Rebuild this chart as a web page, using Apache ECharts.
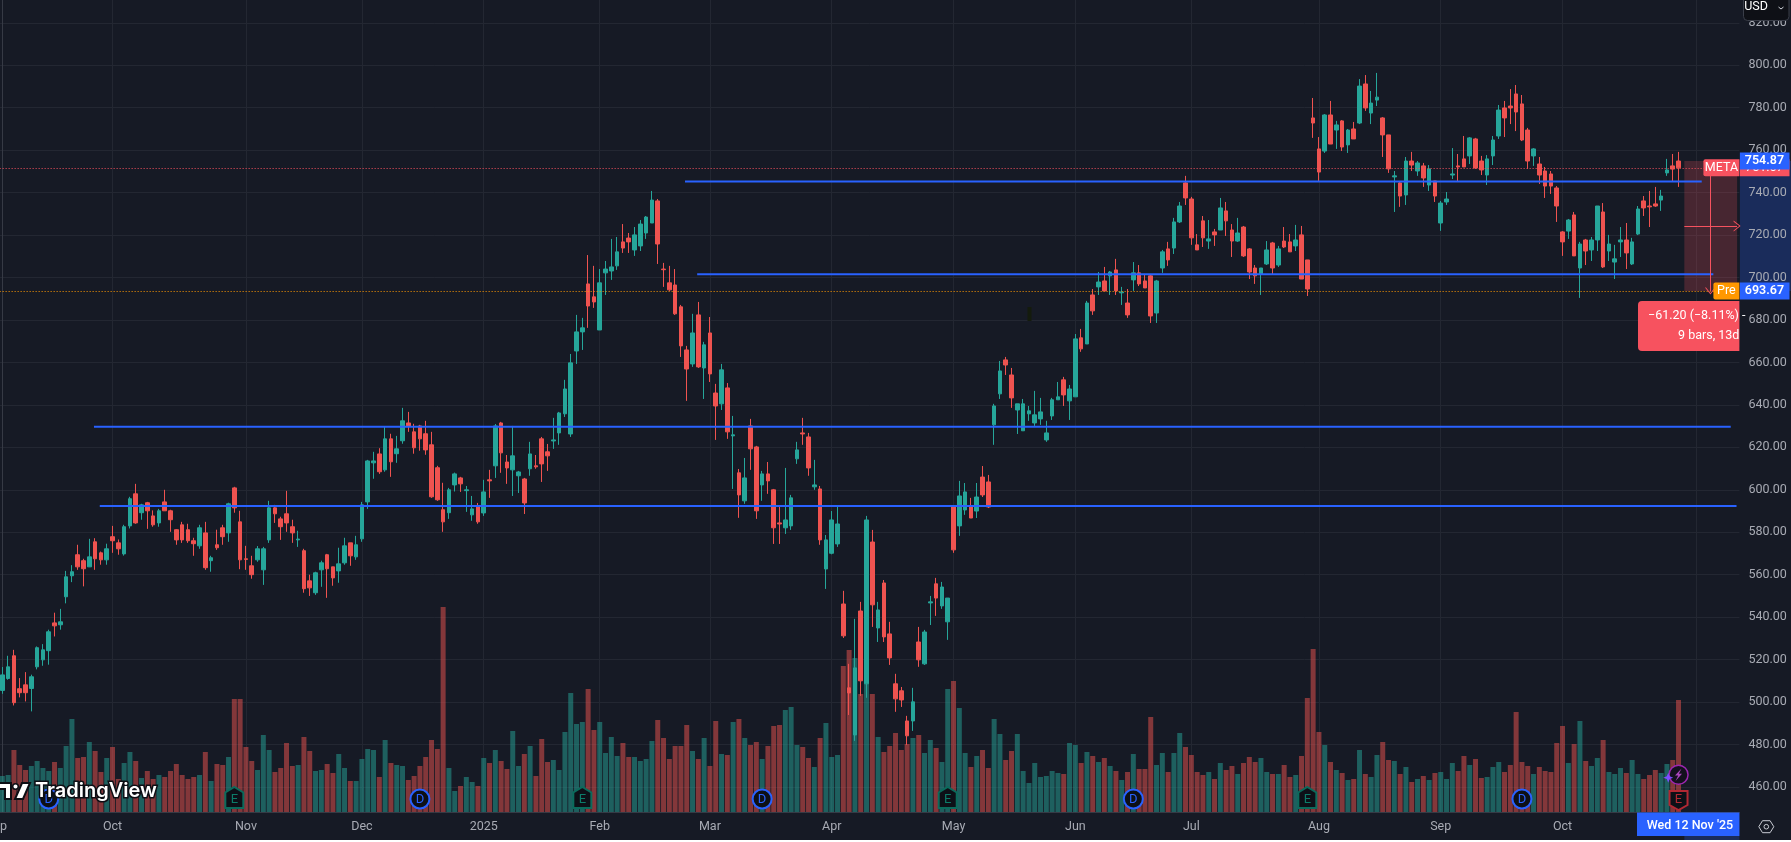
<!DOCTYPE html>
<html><head><meta charset="utf-8">
<style>html,body{margin:0;padding:0;background:#fff;overflow:hidden}#c{width:1791px;height:840px}</style>
<script src="https://cdn.jsdelivr.net/npm/echarts@6/dist/echarts.min.js"></script></head>
<body><div id="c"></div>
<script>
const opens=[
505.5,511.1,521.8,506.3,508.1,506.4,516.6,519.9,524.2,537.3,
536.4,549.6,559.5,569.4,566.6,563.7,575.5,570.3,567,577.9,
575,569.8,583,598.1,589.2,593.9,587.7,584.4,594.3,590.1,
581.2,583.5,581.2,576,573.6,579.7,566.6,574.1,582.1,579.7,
600.9,584.9,567.5,564.2,567,562.3,576.4,591.5,586.3,588.7,
582.6,576.4,571.3,557.1,551.5,562.3,569.4,563.7,561.8,565.6,
575,568.4,576.9,594.3,612.7,616.9,609.4,624,617,623.1,
631.5,627.3,630.1,626.4,621.2,610.4,590.6,589.2,602.3,605.6,
599.6,588.2,592.4,589.1,604.7,611.3,631.5,613.1,609.4,606.6,
605.1,609.9,611.3,624,617.9,623,626.8,635.8,626.3,665.4,
674.4,697,690.9,675.3,702.2,703.1,705.5,716.8,718.6,713,
714.9,721,725.7,736.1,704,697.5,696.5,686.2,665.9,659.3,
682.4,657.4,673.9,645.6,640.5,648,625.4,608,594.8,630.1,
620.2,602.3,607.5,600,584.4,582.1,583,614.6,626.8,624.9,
601.4,600.4,562.7,570.1,574.5,546.2,506.7,484.5,542.9,508.6,
575.4,534.9,556.1,532.1,508.6,505.3,491.1,491.1,528.3,518,
546.7,555.7,545.3,537.8,591.9,583,590.5,592.4,590,606,
603.7,630.6,645.2,661.2,654.1,637.6,627.8,635.8,631.5,633.4,
623.5,634.8,642.4,651.8,641.9,643.8,671.6,668.7,691.8,695.6,
698.4,700.8,703.6,692.8,688,698.9,702.2,698.4,700.8,683.3,
704.5,713.5,713.9,726.2,744.6,737,715.4,726.7,717.2,721.5,
722.4,731.4,722.4,717.2,723.8,713.5,704.5,701.7,706.4,716.3,
705.9,717.2,716.8,714.9,720.1,708.3,775.2,760.6,759.6,776.6,
769.5,773.8,762.5,770,772.8,791.2,777.5,783.6,775.2,767.2,
747.4,744.6,738.9,754.9,750.2,752.6,743.6,745.5,725.7,735.6,
748.3,752.6,755.9,757.3,765.3,754.9,748.3,757.3,766.7,779.9,
780.8,786.5,781.8,769.5,757.3,753.5,750.2,748.8,742.2,721.5,
721.9,729.5,704.5,717.7,713,717.7,730.9,712.5,707.3,716.8,
717.7,706.4,720.5,736.1,733.7,734.7,736.5,749.3,752.6,754.9];
const closes=[
512.8,516.6,499.7,504.4,504.4,511.9,525.6,524.6,533.1,535.9,
537.8,559,561.4,563.7,562.8,568.4,567.5,567,572.2,576,
572.2,582.6,595.8,584.4,592.9,590.1,583.5,590.1,590.1,585.9,
576.4,576.4,576,574.6,582.1,563.3,568,572.7,577.9,593.4,
591.5,567,567.2,560,572.2,572.2,591.5,588.7,582.6,584.4,
579.7,576.8,553.4,553.8,560.9,565.6,562.8,558.5,565.1,573.6,
568.9,574.1,592.9,613.6,613.6,608.5,624,613.2,619.3,632.5,
630.1,619.8,624,618.8,596.7,595.3,584.9,600,607.5,602.8,
600,591,584.9,599,604.2,630.1,617.4,610.3,616,608.4,
593.8,616.9,610.8,612.2,616,623.5,636.2,647.5,659.8,674.4,
676.3,686.6,688.5,697.5,704,705,712.1,713.9,716.8,720.1,
725.2,728.5,736.5,715.8,703.7,694.2,682.9,667.8,656.9,673.9,
657.9,668.3,654.6,639.5,656.5,627.3,625.9,597.6,605.6,619.3,
590.1,607.5,604.2,582.1,583.9,585.8,596.2,618.8,626.3,610.3,
602.3,576.4,576.4,585.8,583.9,531.2,504.3,516.1,510,585.8,
545.8,543.4,530.7,520.8,501.5,501,484.1,500.1,519.9,533,
547.2,549,554.2,549,571.7,597.1,599,586.7,596.6,597.6,
591.9,639.5,656,658.8,643.3,640.5,640.5,637.2,635.3,636.7,
626.8,642.4,643.8,644.7,647.5,671.1,666.4,688,684.3,697.9,
693.7,702.6,693.7,693.2,682.4,702.2,697,695.1,681.9,698.4,
712.1,708.3,726.2,733.7,737.5,718.7,713,718.7,718.2,720.1,
732.8,726.7,717.2,721,710.2,702.6,700.8,704.5,713,704.5,
713.5,714.4,712.1,717.7,699.3,694.6,772.8,749.7,776.6,762.9,
771.9,761.5,769.5,765.3,790.2,779.9,782.2,785,767.2,751.2,
747.9,738.4,754.9,753,754,746.9,751.2,738.4,735.1,737,
748.8,752.1,752.1,765.8,751.6,750.7,755.9,764.8,778.9,775.2,
779.9,778,764.8,754.9,760.6,748.3,743.1,743.1,733.7,716.8,
727.1,710.2,715.8,712.5,717.7,733.7,705,715.8,708.8,717.7,
711.6,716.8,732.3,732.8,733.3,733.7,738.4,750.7,751.1,751.67];
const highs=[
516.5,521.8,524.6,511.3,514.1,512.9,526.2,527.3,534.1,542.1,
543.9,561.8,564.5,574.1,567.5,576.9,577.2,570.9,574.6,583,
576.6,583.5,596.7,602.8,593.4,594.3,590.3,591,600,590.6,
581.5,584.9,584,577.4,583.5,584.9,568.9,581.2,583.5,593.9,
601.4,590.1,573.6,568.9,573.5,573.1,594.8,592.9,587.3,599.5,
585.9,580.7,572.2,560,561.4,566.6,569.8,563.7,572.7,577.4,
575,578.3,594.3,614.1,617.9,619.6,629.7,626.4,625.4,638.6,
636.7,631.1,630.6,632.5,627.3,611.3,603.3,600.9,608.1,606.1,
601.8,597.1,593.8,604.7,609.4,631,632,616.4,630.1,608.9,
605.6,622.6,616.4,624.9,621.6,633.9,636.7,651.8,664,682.4,
681,710.6,705.5,704,707.8,718.2,719.1,725.2,721,723.8,
727.1,729,740.8,737,706.9,705.5,704,687.1,667.8,682.9,
688.5,669.7,681.4,649.9,659.3,650.3,634.8,609.8,615,633.4,
620.7,608.9,613.1,600.4,592.4,610.3,597.6,622.6,633.9,626.8,
614.1,601.8,578.7,590,592.4,552.4,518,539.2,547.2,587.7,
581.1,547.2,557.5,537.8,513.3,507.1,493.5,506.7,535.4,534,
550,558.5,556.6,549,592.4,604.2,603.2,596.2,603.2,611.2,
607,640.5,660.7,662.6,657.4,640.5,642.8,639.5,646.6,643.3,
632.5,643.3,650.8,653.2,649.4,673.4,675.8,689,694.6,702.6,
705,703.1,708.8,695.6,694.6,707.3,705.9,701.7,701.7,698.9,
713,716.8,728.1,735.6,747.9,738,720.5,729,727.1,722.9,
737.5,735.6,725.2,728.1,724.3,713.9,705.9,704.5,717.2,716.8,
714.9,723.8,720.5,724.8,724.3,708.3,784.6,766.2,777,783.2,
773.8,774.2,770,773.3,793.5,795.4,787.9,796.4,775.6,767.2,
750.2,745.5,756.8,759.2,754.9,754,753,745.5,736.1,740.3,
761,758.2,766.7,766.2,765.8,757.3,757.7,766.7,781.3,783.2,
788.8,790.7,786,770.5,761,756.8,752.1,750.2,743.1,721.9,
727.6,730.9,716.8,718.2,719.1,733.7,735.1,720.1,715.4,723.8,
725.7,718.7,733.7,738.4,740.8,742.7,741.3,755.9,758.2,759.2];
const lows=[
503.9,510.5,498.4,502.2,500.3,495.6,515.4,517.1,517.6,530.9,
534.1,546.5,556.5,562.3,554.5,563.6,562.3,564.7,564.7,570.3,
569.4,569,581.8,584,585.9,581.6,582.6,582.6,590.1,580.2,
574.1,575,575,568.9,572.2,562.3,561.4,571.7,574.1,575.5,
589.2,562.6,562.3,558.1,566.1,555.2,575,584.4,576.4,580.2,
575,573.1,551.5,550,550.5,554.3,549.1,554.8,556.2,564.7,
564.2,567,575.5,591,605.2,607.5,608.5,606.1,612.7,621.7,
627.3,617,618.4,616.5,596.2,594.8,580.2,586.3,599.2,599,
589.6,585.4,584,587.7,596.2,605.6,608,602.8,597.1,598.5,
588.6,606.6,609.9,603.7,608.9,619.3,621.2,634.3,624.9,659.3,
665.9,676.3,685.7,675.3,691.8,698.9,703.6,711.6,711.6,710.2,
712.5,718.2,725.7,706.4,695.6,693.7,682.4,662.6,641.9,657.9,
657.4,642.8,650.8,623.5,637.6,624,600.4,586.8,593.4,609.4,
586.3,594.8,598.1,574.5,574.5,579.2,581.1,612.2,621.2,606.6,
600,574.1,553.3,569.6,573.1,530.2,493.9,481.7,502.9,502,
535.4,528.3,528.3,517.5,495.4,497.7,479.8,486.4,516.6,517.5,
536.3,540.6,543.9,529.3,570.3,578.3,588.2,586.7,586.7,596.6,
591.4,621.2,642.8,654.1,638.6,626.3,627.8,632.5,630.1,630.6,
622.6,632.9,642.4,639.5,632.9,643.8,665,668.7,682.4,691.8,
693.7,691.8,691.8,687.1,681,693.7,696,695.1,678.6,678.6,
702.2,705.5,711.1,725.7,734.2,715.4,713,714.4,713.5,714.9,
722.4,719.6,709.7,716.8,709.7,699.3,697,691.8,705.9,701.2,
705,713.9,712.1,712.5,699.3,691.3,765.8,745.5,758.7,762.9,
760.6,759.6,758.7,765.3,772.3,778.5,772.3,780.8,756.8,749.3,
730.9,733.3,734.2,750.2,747.9,742.7,740.8,735.6,722,734.2,
746.4,745,752.1,753.5,751.2,748.3,743.6,753,765.3,766.2,
772.3,769,764.3,751.2,752.6,744.1,737.5,739.4,726.2,710.2,
718.2,710.2,690.4,705.9,707.8,712.5,704.5,707.8,699.3,709.7,
704,705.9,720,729,723.8,733.3,731.4,747.9,745.5,742.7];
const volumes=[
10.8,11.1,18.6,14.1,12.6,13.8,15.3,13.2,12.3,15,
13.2,19.8,27.9,16.2,16.5,21,18.3,12,16.2,19.5,
9.9,14.7,18,15.3,10.2,12.3,9.9,11.1,10.5,12.3,
14.4,11.1,9.9,10.5,11.1,18,9.3,14.4,14.1,16.5,
33.9,33.9,19.5,15.3,12.6,23.1,18.6,12,13.2,20.7,
13.8,14.1,22.5,18.3,12.3,12.6,14.4,11.7,17.4,13.2,
9.3,9.3,15.9,18.9,18.6,10.5,21.6,14.7,14.1,13.8,
9.6,10.8,13.8,16.5,21.6,18.9,61.5,13.2,6.3,7.8,
10.5,9,7.8,16.2,14.7,18.6,15.3,12.9,24.3,13.8,
17.4,19.8,10.8,21.9,15,15.6,12.6,24,35.7,26.4,
27,36.9,24.6,27,17.7,22.5,16.8,20.7,16.5,16.5,
15.3,15.9,21.3,27.6,22.2,15.9,19.8,19.8,26.1,18.3,
15.9,22.2,13.8,27.3,17.4,17.1,27,27.9,22.2,20.1,
21,15.9,19.8,25.8,26.1,30.6,31.5,20.1,19.5,16.2,
13.5,22.2,26.7,16.5,17.1,43.8,48.6,46.2,35.4,38.4,
35.4,22.5,18,19.8,23.7,18.6,20.4,22.2,23.1,17.7,
21.6,19.2,15,36.9,39.3,31.2,17.7,13.5,16.8,18.6,
13.2,27.9,23.4,15.6,18.3,23.4,12.3,8.7,14.7,10.5,
10.8,12.3,11.7,11.4,20.7,20.1,14.7,18,16.8,15,
16.2,13.8,12.3,9.6,12,17.4,12.9,12.9,28.5,14.1,
17.7,12,17.7,23.7,19.5,17.1,12,11.1,12,9.9,
14.7,12.6,13.8,11.4,14.7,16.5,15,16.2,12,11.4,
11.4,14.1,10.5,11.1,16.8,34.2,48.9,24,20.1,15,
12.6,11.7,9.6,9.9,18.6,11.4,10.5,17.1,21,15.6,
15.3,11.4,13.5,9,9.9,10.8,9.6,11.7,12,9.9,
14.7,12.3,16.8,14.1,15.9,10.2,10.5,13.5,15,12,
14.1,30,15,13.8,11.4,13.5,12.3,12,20.7,25.8,
14.7,20.4,27.3,15.3,13.8,16.2,21.6,12,11.4,13.2,
11.7,15.6,11.4,9.9,11.1,12.6,11.7,14.4,15.6,33.6];
const priceTicks=[460,480,500,520,540,560,580,600,620,640,660,680,700,720,740,760,780,800,820];
const holidays=['2024-11-28','2024-12-25','2025-01-01','2025-01-09','2025-01-20','2025-02-17','2025-04-18','2025-05-26','2025-06-19','2025-07-04','2025-09-01'];
const monthNames=['2025','Feb','Mar','Apr','May','Jun','Jul','Aug','Sep','Oct','Nov','Dec'];
// level lines: price, first bar, last bar (bar 0 is the first candle)
const levelPrices=[745.2,701.6,629.7,592.4];
const levelFrom=[117.7,119.8,15.8,16.8];
const levelTo=[293,295,298,299];
const lastClose=751.67, preMarket=693.67, measureTop=754.87;
const dividendBars=[8,72,131,195,262];
const earningsBars=[40,100,163,225];
const nextEarningsBar=289;

// trading calendar: Sep 3 2024 .. Nov 12 2025
const categories=[];
for(let t=Date.UTC(2024,8,3);t<=Date.UTC(2025,10,12);t+=864e5){
  const d=new Date(t),s=d.toISOString().slice(0,10),w=d.getUTCDay();
  if(w!==0&&w!==6&&!holidays.includes(s))categories.push(s);
}
const isMonthStart=i=>i===0||categories[i].slice(0,7)!==categories[i-1].slice(0,7);
const monthBars=categories.map((c,i)=>isMonthStart(i)?i-1:null).filter(v=>v!==null);

const UP='#26A69A',DN='#EF5350',BG='#161A25',GRID='#232732',TXT='#A8ABB4',AX='#363A45';
const F='Roboto';
const candleData=[['-','-','-','-']].concat(opens.map((o,i)=>[o,closes[i],lows[i],highs[i]]));
const volumeData=[{value:'-'}].concat(volumes.map((v,i)=>({value:v,itemStyle:{color:closes[i]>=opens[i]?'rgba(38,166,154,.5)':'rgba(239,83,80,.5)'}})));
const chevron='path://M0 10L5 0L10 10L9 10L5 2L1 10Z';
const G={left:-6.37,width:1745.8,top:0,height:812,outerBoundsMode:'none',containLabel:false};
const chart=echarts.init(document.getElementById('c'),null,{renderer:'canvas'});
chart.setOption({
  animation:false,backgroundColor:BG,
  grid:G,
  xAxis:[
   {type:'category',data:categories,boundaryGap:true,
    axisLine:{show:true,lineStyle:{color:AX}},axisTick:{show:false},splitLine:{show:false},
    axisLabel:{show:true,showMinLabel:true,color:TXT,fontFamily:F,fontSize:12.5,margin:8,
      interval:(i)=>isMonthStart(i),formatter:(v)=>monthNames[+v.slice(5,7)-1]}},
   {type:'value',min:-1.5,max:299.5,position:'top',
    axisLine:{show:false},axisLabel:{show:false},
    axisTick:{show:false,customValues:monthBars},
    splitLine:{show:true,lineStyle:{color:GRID,width:1}}}
  ],
  yAxis:[
   {type:'value',position:'right',min:448.2,max:830.76,
    axisLine:{show:true,lineStyle:{color:AX}},
    axisTick:{show:false,customValues:priceTicks},
    axisLabel:{customValues:priceTicks,color:TXT,fontFamily:F,fontSize:12.5,margin:9,formatter:v=>v.toFixed(2)},
    splitLine:{show:true,lineStyle:{color:GRID,width:1}}},
   {type:'value',min:0,max:243.6,show:false,splitLine:{show:false}}
  ],
  series:[
   {type:'bar',name:'Volume',xAxisIndex:0,yAxisIndex:1,data:volumeData,barWidth:5,silent:true},
   {type:'candlestick',name:'META',xAxisIndex:0,yAxisIndex:0,data:candleData,barWidth:4,silent:true,
    itemStyle:{color:UP,color0:DN,borderColor:UP,borderColor0:DN,borderWidth:1}},
   ...levelPrices.map((p,i)=>({type:'line',xAxisIndex:1,yAxisIndex:0,showSymbol:false,silent:true,
     data:[[levelFrom[i],p],[levelTo[i],p]],lineStyle:{color:'#2962FF',width:2}})),
   {type:'line',xAxisIndex:1,yAxisIndex:0,showSymbol:false,silent:true,data:[],
    markLine:{silent:true,symbol:'none',label:{show:false},animation:false,
      data:[{yAxis:lastClose,lineStyle:{color:'#F7525F',type:[1,2],width:1}},
            {yAxis:preMarket,lineStyle:{color:'#FF9800',type:[1,2],width:1}}]}},
   {type:'line',xAxisIndex:1,yAxisIndex:0,showSymbol:false,silent:true,data:[],
    markArea:{silent:true,itemStyle:{color:'rgba(247,82,95,.22)'},label:{show:false},
      data:[[{coord:[290,measureTop]},{coord:[299.1,preMarket]}]]},
    markLine:{silent:true,label:{show:false},animation:false,precision:4,
      lineStyle:{color:'#F7525F',width:1,type:'solid'},
      data:[[{coord:[290,(measureTop+preMarket)/2],symbol:'none'},{coord:[299.1,(measureTop+preMarket)/2],symbol:chevron,symbolSize:[11,7]}],
            [{coord:[294.5,measureTop],symbol:'none'},{coord:[294.5,preMarket],symbol:chevron,symbolSize:[11,7]}]]}}
  ]
});
const yOf=p=>chart.convertToPixel({yAxisIndex:0},p);
const xOf=b=>chart.convertToPixel({xAxisIndex:1},b);
const AXX=1739.4, LBLW=49.6;
const elems=[];
const rect=(x,y,w,h,fill,z,r)=>elems.push({type:'rect',z:z,silent:true,shape:{x,y,width:w,height:h,r:r||0},style:{fill}});
const text=(x,y,t,fill,z,opt)=>elems.push({type:'text',z:z,silent:true,x,y,style:Object.assign({text:t,fill,font:'12.5px '+F,textAlign:'center',textVerticalAlign:'middle'},opt||{})});
// axis highlights
rect(AXX+.5,yOf(measureTop),51,yOf(preMarket)-yOf(measureTop),'rgba(41,98,255,.25)',-5);
rect(xOf(290),812.5,AXX-xOf(290),28,'rgba(41,98,255,.25)',-5);
// stray tool mark
rect(1027.5,307,4,14,'#141B0D',3);
// event badges
dividendBars.forEach(b=>{const x=xOf(b);
  elems.push({type:'circle',z:20,silent:true,shape:{cx:x,cy:799,r:9.5},style:{fill:'#0D1017',stroke:'#2962FF',lineWidth:2}});
  text(x,799.5,'D','#2962FF',21,{font:'13px '+F});});
earningsBars.forEach(b=>{const x=xOf(b);
  elems.push({type:'polygon',z:20,silent:true,shape:{points:[[x,787],[x+9,792.5],[x+9,808],[x-9,808],[x-9,792.5]]},style:{fill:'#0D1017',stroke:'#0B6B5C',lineWidth:2}});
  text(x,799.5,'E','#0C7C69',21,{font:'13px '+F});});
{const x=xOf(nextEarningsBar);
  elems.push({type:'polygon',z:20,silent:true,shape:{points:[[x-9,791],[x+9,791],[x+9,805],[x,810],[x-9,805]]},style:{fill:'#0D1017',stroke:'#B22833',lineWidth:2}});
  text(x,799.5,'E','#B22833',21,{font:'13px '+F});
  elems.push({type:'circle',z:20,silent:true,shape:{cx:x,cy:774.7,r:9.5},style:{fill:'#14101E',stroke:'#9C27B0',lineWidth:1.5}});
  elems.push({type:'polygon',z:21,silent:true,shape:{points:[[x+3,768.5],[x-3.5,775.5],[x-.3,775.5],[x-3,781],[x+3.5,773.7],[x+.3,773.7]]},style:{fill:'#AB47BC'}});
  const sx=x-10.3,sy=777.7;
  elems.push({type:'polygon',z:21,silent:true,shape:{points:[[sx,sy-5],[sx+1.4,sy-1.4],[sx+5,sy],[sx+1.4,sy+1.4],[sx,sy+5],[sx-1.4,sy+1.4],[sx-5,sy],[sx-1.4,sy-1.4]]},style:{fill:'#7C4DFF'}});}
// logo
elems.push({type:'polygon',z:30,silent:true,shape:{points:[[-2,783],[11,783],[11,799],[5,799],[5,789],[-2,789]]},style:{fill:'#fff',stroke:'#0c0e14',lineWidth:2}});
elems.push({type:'circle',z:30,silent:true,shape:{cx:15.5,cy:786.5,r:2.8},style:{fill:'#fff',stroke:'#0c0e14',lineWidth:1.5}});
elems.push({type:'polygon',z:30,silent:true,shape:{points:[[22,783],[30,783],[23,799],[15,799]]},style:{fill:'#fff',stroke:'#0c0e14',lineWidth:2}});
elems.push({type:'text',z:30,silent:true,x:35,y:791,style:{text:'TradingView',fill:'#fff',font:'600 20px Inter',textAlign:'left',textVerticalAlign:'middle',stroke:'#0c0e14',lineWidth:3}});
// price labels
const H=17;
rect(AXX+.5,yOf(lastClose)-8.5,LBLW,H,'#F7525F',40);
text(AXX+25,yOf(lastClose),'751.67','#fff',41);
rect(AXX-36,yOf(lastClose)-8.5,36,H,'#F7525F',40,[2,0,0,2]);
text(AXX-18,yOf(lastClose),'META','#fff',41);
rect(AXX+.5,yOf(measureTop)-8.5,LBLW,H,'#2962FF',42);
text(AXX+25,yOf(measureTop),'754.87','#fff',43,{font:'600 12.5px '+F});
rect(AXX-26,yOf(preMarket)-8.5,26,H,'#FF9800',40,[2,0,0,2]);
text(AXX-13,yOf(preMarket),'Pre','#fff',41);
rect(AXX+.5,yOf(preMarket)-8.5,LBLW,H,'#2962FF',42);
text(AXX+25,yOf(preMarket),'693.67','#fff',43,{font:'600 12.5px '+F});
// measure box
rect(1638,301,AXX-1638,50,'#F7525F',44,[4,0,0,4]);
text(1648,316,'\u221261.20 (\u22128.11%) -','#fff',45,{textAlign:'left'});
text(AXX,336,'9 bars, 13d','#fff',45,{textAlign:'right'});
// crosshair date
rect(1637,812.5,AXX-1637,23.5,'#2962FF',44);
text(1690,826,"Wed 12 Nov '25",'#fff',45,{font:'500 12.5px '+F});
// USD box
elems.push({type:'rect',z:46,silent:true,shape:{x:1743.5,y:-4,width:45.5,height:24.5,r:4},style:{fill:'#0E1016',stroke:'#3A3E49',lineWidth:1}});
text(1756,7,'USD','#fff',47,{font:'12.5px '+F});
elems.push({type:'polyline',z:47,silent:true,shape:{points:[[1778.5,7],[1781,9],[1783.5,7]]},style:{stroke:'#D1D4DC',lineWidth:1,fill:null}});
// settings icon
const cx=1766.3,cy=826.7;
elems.push({type:'polygon',z:47,silent:true,shape:{points:[[cx-7.5,cy],[cx-3.8,cy-6],[cx+3.8,cy-6],[cx+7.5,cy],[cx+3.8,cy+6],[cx-3.8,cy+6]]},style:{fill:null,stroke:'#C9CCD4',lineWidth:1}});
elems.push({type:'circle',z:47,silent:true,shape:{cx,cy,r:2.3},style:{fill:null,stroke:'#C9CCD4',lineWidth:1}});
chart.setOption({graphic:{elements:elems}});
</script></body></html>
